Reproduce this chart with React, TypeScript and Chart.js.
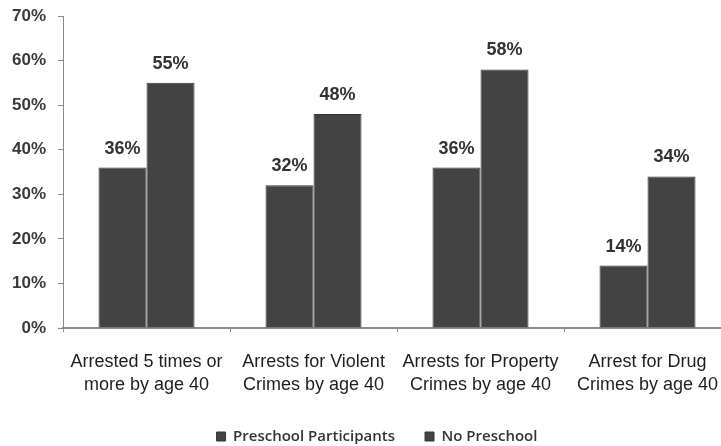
import React, { useEffect, useRef } from "react";
import { Chart, registerables } from "chart.js";

Chart.register(...registerables);

const categories: string[][] = [
  ["Arrested 5 times or", "more by age 40"],
  ["Arrests for Violent", "Crimes by age 40"],
  ["Arrests for Property", "Crimes by age 40"],
  ["Arrest for Drug", "Crimes by age 40"],
];
const seriesNames = ["Preschool Participants", "No Preschool"];
const preschoolParticipants = [36, 32, 36, 14];
const noPreschool = [55, 48, 58, 34];
const yMax = 70;
const yStep = 10;

const barFill = "#434343";
const barEdge = "#353535";
const axisGray = "#8a8a8a";

// Prints each bar's percentage just above its top edge.
const valueLabels = {
  id: "valueLabels",
  afterDatasetsDraw(chart: Chart) {
    const { ctx } = chart;
    ctx.save();
    ctx.font = "bold 18px 'Liberation Sans', Arial, sans-serif";
    ctx.fillStyle = "#333333";
    ctx.textAlign = "center";
    ctx.textBaseline = "middle";
    chart.data.datasets.forEach((ds, di) => {
      const meta = chart.getDatasetMeta(di);
      meta.data.forEach((bar: any, i: number) => {
        const v = ds.data[i] as number;
        ctx.fillText(`${v}%`, bar.x, bar.y - 19);
      });
    });
    ctx.restore();
  },
};

// Moves the legend row slightly right of the canvas centre.
const legendOffset = {
  id: "legendOffset",
  afterLayout(chart: any) {
    if (chart.legend) chart.legend.left += 13;
  },
};

export default function App() {
  const canvasRef = useRef<HTMLCanvasElement | null>(null);

  useEffect(() => {
    if (!canvasRef.current) return;
    const chart = new Chart(canvasRef.current, {
      type: "bar",
      data: {
        labels: categories,
        datasets: [
          {
            label: seriesNames[0],
            data: preschoolParticipants,
            backgroundColor: barFill,
            borderColor: barEdge,
            borderWidth: 1,
          },
          {
            label: seriesNames[1],
            data: noPreschool,
            backgroundColor: barFill,
            borderColor: barEdge,
            borderWidth: 1,
          },
        ],
      },
      options: {
        responsive: false,
        animation: false,
        events: [],
        layout: { padding: { left: 10, right: 9, top: 16, bottom: 0 } },
        datasets: {
          bar: { categoryPercentage: 0.575, barPercentage: 1 },
        },
        scales: {
          x: {
            grid: {
              display: true,
              offset: true,
              drawOnChartArea: false,
              tickLength: 4,
              color: axisGray,
            },
            border: { color: axisGray, width: 2 },
            ticks: {
              color: "#1e1e1e",
              padding: 19,
              maxRotation: 0,
              autoSkip: false,
              font: { family: "'Liberation Sans', Arial, sans-serif", size: 18, lineHeight: 1.25 },
            },
            afterFit: (scale: any) => {
              scale.height -= 16;
            },
          },
          y: {
            min: 0,
            max: yMax,
            grid: {
              display: true,
              drawOnChartArea: false,
              tickLength: 5,
              color: axisGray,
            },
            border: { color: axisGray, width: 1 },
            ticks: {
              stepSize: yStep,
              padding: 12,
              color: "#3a3a3a",
              font: { family: "'Liberation Sans', Arial, sans-serif", size: 17, weight: "bold" },
              callback: (v: any) => `${v}%`,
            },
            afterFit: (scale: any) => {
              scale.width -= 10;
              scale.paddingTop = 0;
              scale.paddingBottom = 0;
            },
          },
        },
        plugins: {
          tooltip: { enabled: false },
          legend: {
            position: "bottom",
            labels: {
              boxWidth: 9,
              boxHeight: 9,
              padding: 30,
              color: "#333333",
              font: { family: "'Open Sans', sans-serif", size: 15, weight: "600" },
            },
          },
        },
      },
      plugins: [valueLabels, legendOffset],
    });
    return () => chart.destroy();
  }, []);

  return (
    <div
      style={{
        position: "absolute",
        left: 0,
        top: 0,
        width: 721,
        height: 446,
        overflow: "hidden",
        background: "#ffffff",
      }}
    >
      <canvas ref={canvasRef} width={740} height={454} style={{ display: "block" }} />
    </div>
  );
}
